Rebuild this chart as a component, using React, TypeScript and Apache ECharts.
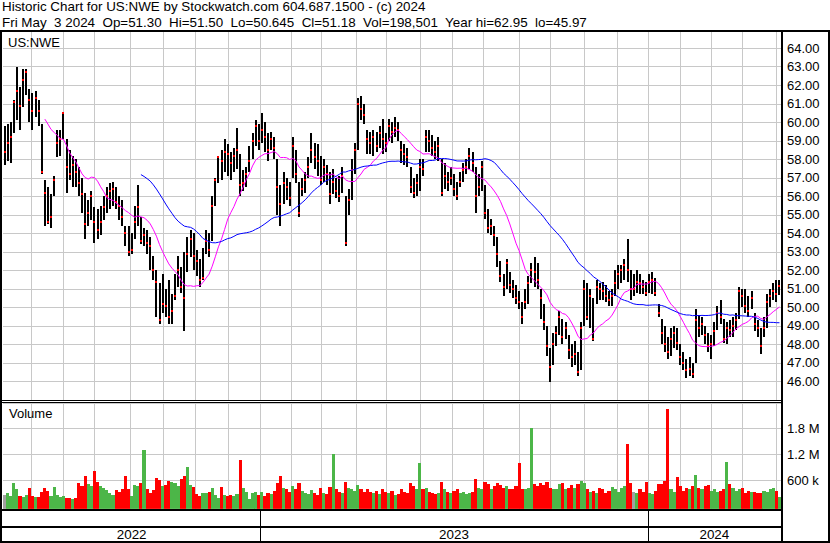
import { useEffect, useRef } from 'react';
import * as echarts from 'echarts';

// ---------- data ----------
const TITLE = 'Historic Chart for US:NWE by Stockwatch.com 604.687.1500 - (c) 2024';
const SUBTITLE = 'Fri May  3 2024  Op=51.30  Hi=51.50  Lo=50.645  Cl=51.18  Vol=198,501  Year hi=62.95  lo=45.97';
const SYMBOL = 'US:NWE';

// trading days per month, May 2022 (partial) .. May 2024 (partial)
const monthTradingDays = [18, 21, 20, 23, 21, 21, 21, 21, 20, 19, 23, 19, 22, 21, 20, 23, 20, 22, 21, 20, 21, 20, 20, 22, 3];
const years = ['2022', '2023', '2024'];
const monthsPerYear = [8, 12, 5];
const DAYS_PER_BAR = 2;
const MA_SHORT_DAYS = 28;
const MA_LONG_DAYS = 90;

const priceClose = [
  58.4, 58.9, 59.2, 61.1, 61.7, 60.9, 62.3, 62.7, 61.2, 60.6,
  61.3, 60.6, 57.3, 56.2, 54.6, 54.9, 56.9, 58.9, 59.1, 60.5,
  57.6, 57.2, 57.7, 57.3, 56.7, 56.1, 54.5, 55.1, 56.0, 54.6,
  54.2, 54.6, 55.4, 56.0, 56.3, 56.4, 55.7, 55.5, 54.9, 54.0,
  53.0, 53.1, 54.6, 55.4, 53.6, 53.9, 53.5, 53.3, 52.0, 51.4,
  49.3, 50.2, 50.1, 49.5, 49.8, 50.6, 52.0, 51.1, 50.5, 52.9,
  53.7, 52.8, 52.5, 51.5, 51.6, 53.6, 53.1, 55.5, 56.9, 58.1,
  57.9, 58.4, 58.3, 57.8, 58.2, 58.5, 56.6, 56.7, 57.2, 57.9,
  59.0, 59.8, 59.0, 59.6, 59.2, 58.5, 59.1, 58.6, 56.5, 55.6,
  56.7, 56.5, 55.9, 58.7, 57.2, 55.1, 56.4, 56.9, 57.6, 58.5,
  58.1, 57.9, 56.9, 57.6, 57.2, 56.1, 56.8, 56.3, 56.0, 57.1,
  53.5, 55.8, 57.4, 58.5, 61.0, 60.7, 60.4, 59.1, 58.9, 59.2,
  58.7, 59.4, 59.1, 58.9, 59.8, 59.5, 59.7, 59.6, 58.5, 58.3,
  58.1, 56.5, 56.2, 56.7, 57.6, 57.5, 59.2, 59.0, 58.6, 58.4,
  58.7, 56.2, 57.1, 56.8, 57.0, 56.4, 56.0, 56.8, 57.4, 57.6,
  58.2, 57.8, 56.0, 56.5, 57.6, 55.1, 54.3, 54.4, 53.9, 52.9,
  51.7, 51.1, 52.4, 51.2, 51.0, 50.5, 50.3, 49.5, 50.3, 51.3,
  52.0, 51.9, 51.5, 50.5, 49.2, 47.9, 46.8, 48.0, 48.6, 49.5,
  48.4, 48.9, 47.7, 47.3, 47.5, 46.5, 48.9, 51.0, 49.5, 50.6,
  48.3, 51.1, 51.0, 50.9, 50.6, 50.4, 50.6, 51.3, 51.8, 52.0,
  52.3, 52.0, 51.0, 51.0, 51.4, 51.3, 51.1, 50.8, 51.4, 51.5,
  50.8, 49.7, 48.6, 48.0, 47.6, 48.3, 48.6, 48.1, 47.3, 47.0,
  46.6, 46.7, 46.4, 49.3, 48.9, 49.1, 48.5, 47.9, 48.0, 48.7,
  49.7, 49.5, 48.3, 48.9, 48.8, 49.0, 49.3, 50.9, 50.6, 50.1,
  49.8, 50.5, 49.1, 48.9, 47.9, 48.9, 50.3, 50.6, 50.9, 50.7,
  51.18,
];

const priceHigh = [
  59.8, 59.9, 60.0, 61.2, 63.0, 61.9, 62.9, 62.9, 61.8, 61.6,
  61.7, 61.2, 59.9, 56.9, 56.5, 56.1, 57.1, 59.6, 59.6, 60.5,
  59.1, 58.5, 58.2, 58.0, 57.6, 57.0, 56.2, 55.8, 56.3, 55.4,
  55.3, 55.5, 56.0, 56.5, 56.7, 56.8, 56.5, 56.0, 55.8, 54.4,
  54.4, 54.0, 55.5, 56.6, 54.9, 54.3, 54.2, 53.8, 52.8, 52.0,
  51.3, 51.8, 51.0, 51.5, 50.7, 51.8, 52.8, 52.2, 53.0, 53.8,
  54.2, 54.0, 53.1, 52.6, 53.2, 54.2, 54.0, 56.0, 57.0, 58.2,
  58.5, 59.1, 58.8, 58.4, 58.6, 59.7, 58.3, 57.4, 57.6, 58.7,
  59.4, 60.1, 59.9, 60.5, 60.0, 59.4, 59.5, 59.2, 58.0, 56.6,
  57.3, 57.0, 56.8, 59.2, 58.5, 56.8, 57.0, 57.3, 58.1, 59.4,
  58.9, 58.8, 58.2, 58.0, 57.7, 57.3, 57.5, 57.0, 57.1, 57.6,
  56.0, 56.4, 58.0, 58.9, 61.3, 61.4, 61.0, 59.6, 59.5, 59.6,
  59.5, 59.8, 60.2, 59.4, 60.2, 60.0, 60.3, 60.0, 59.0, 58.8,
  58.6, 57.6, 57.0, 57.2, 58.0, 58.0, 59.6, 59.6, 59.3, 59.0,
  59.2, 58.0, 57.8, 57.3, 57.6, 57.2, 56.8, 57.3, 57.8, 58.0,
  58.6, 58.4, 57.6, 57.2, 57.9, 56.6, 55.3, 54.8, 54.4, 53.8,
  52.5, 51.8, 52.6, 51.9, 51.5, 51.2, 50.9, 50.3, 51.0, 51.7,
  52.4, 52.7, 52.4, 51.0, 50.2, 49.0, 47.8, 48.6, 49.0, 49.8,
  49.4, 49.2, 48.5, 48.0, 48.2, 47.6, 49.2, 51.5, 51.3, 51.0,
  50.5, 51.5, 51.3, 51.4, 51.2, 50.9, 51.0, 52.0, 52.3, 52.3,
  52.6, 53.7, 52.0, 51.8, 52.0, 51.8, 51.5, 51.4, 51.8, 51.9,
  51.6, 50.2, 49.4, 49.0, 48.4, 48.9, 49.0, 48.9, 48.0, 47.6,
  47.2, 47.3, 47.0, 49.9, 49.6, 49.5, 49.0, 48.6, 48.5, 49.2,
  50.1, 50.4, 49.4, 49.2, 49.3, 49.5, 49.7, 51.1, 51.0, 51.0,
  50.6, 50.9, 49.7, 49.3, 48.9, 49.5, 50.7, 51.0, 51.3, 51.5,
  51.5,
];

const priceLow = [
  57.7, 57.9, 57.8, 59.4, 60.1, 59.6, 60.8, 61.5, 60.0, 59.6,
  60.3, 59.8, 57.2, 54.4, 54.5, 54.3, 56.0, 58.1, 58.2, 59.1,
  56.2, 56.9, 56.5, 56.5, 56.0, 55.1, 53.7, 54.4, 54.7, 53.5,
  53.7, 53.9, 54.7, 55.1, 55.3, 55.5, 55.3, 54.7, 54.4, 53.3,
  52.8, 52.9, 53.7, 54.4, 53.4, 53.3, 52.9, 52.0, 51.5, 49.5,
  49.1, 49.7, 49.5, 49.1, 49.1, 50.4, 51.1, 50.8, 48.7, 51.9,
  52.7, 52.0, 51.7, 51.1, 51.5, 52.9, 52.7, 53.6, 55.5, 56.7,
  56.9, 57.3, 57.1, 56.9, 57.3, 57.5, 56.0, 56.3, 56.5, 57.3,
  58.0, 58.7, 58.5, 58.9, 58.4, 57.9, 58.5, 58.0, 55.0, 54.4,
  55.6, 55.8, 55.5, 57.0, 56.7, 54.9, 56.0, 56.2, 57.0, 57.8,
  57.5, 57.1, 56.6, 56.8, 56.6, 55.6, 56.1, 55.9, 55.7, 56.2,
  53.3, 55.0, 55.8, 57.2, 58.5, 60.1, 59.9, 58.3, 58.3, 58.2,
  58.4, 58.6, 58.3, 58.4, 59.0, 58.9, 59.2, 59.0, 57.8, 57.7,
  57.6, 56.2, 55.9, 56.0, 56.3, 57.1, 58.4, 58.4, 58.2, 58.0,
  57.9, 56.0, 56.4, 56.3, 56.6, 56.0, 55.8, 56.5, 56.8, 57.2,
  57.5, 57.3, 55.1, 56.0, 56.3, 54.8, 54.0, 53.9, 53.3, 52.2,
  51.4, 50.6, 51.0, 50.8, 50.5, 50.2, 49.9, 49.1, 49.9, 50.2,
  51.3, 51.1, 51.0, 49.4, 48.8, 47.4, 45.97, 46.9, 47.9, 48.5,
  48.0, 48.3, 47.2, 46.8, 46.9, 46.3, 46.6, 49.0, 49.3, 48.9,
  48.2, 50.2, 50.4, 50.4, 50.3, 50.1, 50.1, 50.6, 51.0, 51.3,
  51.5, 51.4, 50.4, 50.6, 50.8, 50.7, 50.7, 50.6, 50.8, 50.7,
  50.6, 49.5, 48.0, 47.6, 47.2, 47.4, 47.8, 47.7, 46.9, 46.6,
  46.2, 46.3, 46.2, 47.0, 48.4, 48.5, 48.0, 47.6, 47.2, 47.9,
  48.8, 49.1, 48.1, 48.0, 48.4, 48.4, 48.8, 49.4, 50.0, 49.7,
  49.5, 49.9, 48.7, 48.4, 47.5, 48.4, 48.9, 50.0, 50.4, 50.3,
  50.645,
];

// average daily volume per bar, in thousands of shares
const volumeThousands = [
  250, 290, 240, 520, 380, 230, 210, 250, 410, 230,
  200, 210, 330, 420, 350, 230, 440, 260, 200, 240,
  190, 180, 170, 180, 540, 450, 690, 500, 450, 800,
  560, 470, 420, 360, 290, 250, 360, 330, 380, 690,
  390, 230, 480, 470, 540, 1300, 400, 300, 360, 640,
  600, 460, 480, 580, 560, 520, 450, 620, 700, 900,
  480, 440, 280, 240, 300, 290, 330, 420, 260, 180,
  440, 260, 220, 250, 240, 280, 1065, 420, 330, 160,
  290, 330, 250, 320, 240, 300, 280, 350, 530, 690,
  420, 380, 330, 450, 400, 520, 350, 300, 280, 360,
  300, 260, 420, 300, 280, 430, 1200, 380, 330, 300,
  560, 420, 380, 350, 480, 400, 320, 380, 330, 300,
  350, 280, 380, 330, 300, 350, 260, 280, 400, 330,
  300, 520, 450, 380, 1000, 380, 420, 330, 300, 280,
  300, 560, 380, 330, 290, 350, 380, 300, 330, 280,
  300, 320, 620, 420, 380, 560, 500, 380, 450, 520,
  480, 420, 450, 380, 400, 450, 1000, 400, 380, 420,
  1800, 500, 450, 520, 480, 560, 420, 380, 400, 500,
  520, 380, 420, 480, 420, 500, 575, 520, 400, 330,
  350, 300, 420, 380, 300, 350, 445, 380, 330, 420,
  460, 1440, 540, 330, 300, 380, 320, 545, 300, 280,
  350, 500, 500, 575, 2250, 380, 330, 670, 450, 350,
  420, 380, 450, 715, 420, 380, 450, 480, 350, 380,
  330, 350, 380, 1010, 500, 420, 350, 380, 420, 300,
  350, 330, 330, 300, 310, 350, 330, 390, 420, 350,
  198.501,
];

// ---------- derived ----------
const TOTAL_DAYS = monthTradingDays.reduce((a, b) => a + b, 0);
const monthBoundaries: number[] = [];
{
  let acc = 0;
  for (let i = 0; i < monthTradingDays.length - 1; i++) {
    acc += monthTradingDays[i];
    monthBoundaries.push(acc);
  }
}
const yearStarts: number[] = [];
{
  let m = 0;
  let acc = 0;
  for (let y = 0; y < years.length; y++) {
    yearStarts.push(acc);
    for (let j = 0; j < monthsPerYear[y]; j++) acc += monthTradingDays[m++];
  }
}
const yearEnds = yearStarts.slice(1).concat([TOTAL_DAYS]);
const barX = (i: number) => i * DAYS_PER_BAR + DAYS_PER_BAR / 2;

const ohlcData = priceClose.map((c, i) => [barX(i), priceHigh[i], priceLow[i], c]);
const volumeData = volumeThousands.map((v, i) => {
  const dir = i === 0 ? 0 : Math.sign(priceClose[i] - priceClose[i - 1]);
  return [barX(i), v * 1000, dir];
});

function sma(values: number[], periodBars: number) {
  const out: number[][] = [];
  let sum = 0;
  for (let i = 0; i < values.length; i++) {
    sum += values[i];
    if (i >= periodBars) sum -= values[i - periodBars];
    if (i >= periodBars - 1) out.push([barX(i), sum / periodBars]);
  }
  return out;
}
const maShort = sma(priceClose, MA_SHORT_DAYS / DAYS_PER_BAR);
const maLong = sma(priceClose, MA_LONG_DAYS / DAYS_PER_BAR);

// ---------- styling ----------
const FONT = '"Liberation Sans", Arial, sans-serif';
const GRID_COLOR = '#c8c8c8';
const UP = '#4cb648';
const DOWN = '#ff0000';
const FLAT = '#a0a0a0';

function priceLabel(v: number) {
  if (Math.abs(v - Math.round(v)) > 1e-6 || v < 46) return '';
  return v.toFixed(2);
}
function volLabel(v: number) {
  if (v <= 0 || Math.abs(v / 600000 - Math.round(v / 600000)) > 1e-6) return '';
  return v >= 1e6 ? (v / 1e6).toFixed(1) + ' M' : Math.round(v / 1000) + ' k';
}

function gridLineRender(extraBottom: number) {
  return (params: any, api: any) => {
    const cs = params.coordSys;
    const p = api.coord([api.value(0), api.value(1)]);
    const x = Math.round(p[0]) + 0.5;
    return {
      type: 'line',
      shape: { x1: x, y1: cs.y, x2: x, y2: cs.y + cs.height + extraBottom },
      style: { stroke: GRID_COLOR, lineWidth: 1 },
      silent: true,
    };
  };
}

function buildOption(): any {
  const axisLabelBase = { color: '#000', fontSize: 13, fontFamily: FONT, margin: 6 };
  return {
    animation: false,
    backgroundColor: '#ffffff',
    grid: [
      { left: 3, top: 31, width: 778, height: 369 },
      { left: 3, top: 403, width: 778, height: 102.9 },
      { left: 3, top: 510, width: 778, height: 32 },
    ],
    xAxis: [0, 1, 2].map((g) => ({ gridIndex: g, type: 'value', min: 0, max: TOTAL_DAYS, show: false })),
    yAxis: [
      {
        gridIndex: 0, type: 'value', position: 'right', min: 45, max: 64.93, interval: 1,
        axisLine: { show: false }, axisTick: { show: false },
        splitLine: { show: true, lineStyle: { color: GRID_COLOR, width: 1 } },
        axisLabel: { ...axisLabelBase, formatter: priceLabel },
      },
      {
        gridIndex: 1, type: 'value', position: 'right', min: 0, max: 2384000, interval: 600000,
        axisLine: { show: false }, axisTick: { show: false },
        splitLine: { show: true, lineStyle: { color: GRID_COLOR, width: 1 } },
        axisLabel: { ...axisLabelBase, formatter: volLabel },
      },
      { gridIndex: 2, type: 'value', min: 0, max: 1, show: false },
    ],
    series: [
      {
        type: 'custom', name: 'monthGridPrice', xAxisIndex: 0, yAxisIndex: 0, z: 1, silent: true,
        data: monthBoundaries.map((d) => [d, 50]), encode: { x: 0, y: 1 },
        renderItem: gridLineRender(0),
      },
      {
        type: 'custom', name: 'monthGridVolume', xAxisIndex: 1, yAxisIndex: 1, z: 1, silent: true,
        data: monthBoundaries.map((d) => [d, 0]), encode: { x: 0, y: 1 },
        renderItem: gridLineRender(3),
      },
      {
        type: 'custom', name: 'price', xAxisIndex: 0, yAxisIndex: 0, z: 2, silent: true,
        data: ohlcData, encode: { x: 0, y: [1, 2, 3] },
        renderItem: (params: any, api: any) => {
          const x = api.value(0);
          const top = api.coord([x, api.value(1)]);
          const bot = api.coord([x, api.value(2)]);
          const c = api.coord([x, api.value(3)]);
          const px = Math.round(top[0]) - 1;
          return {
            type: 'group',
            children: [
              { type: 'rect', shape: { x: px, y: Math.round(top[1]), width: 2, height: Math.max(1, Math.round(bot[1]) - Math.round(top[1])) }, style: { fill: '#000000' } },
              { type: 'rect', shape: { x: px, y: Math.round(c[1]) - 1, width: 2, height: 2 }, style: { fill: '#ff0000' } },
            ],
          };
        },
      },
      {
        type: 'line', name: 'MA short', xAxisIndex: 0, yAxisIndex: 0, z: 3, silent: true,
        data: maShort, showSymbol: false, symbol: 'none',
        lineStyle: { color: '#ff00ff', width: 1 },
      },
      {
        type: 'line', name: 'MA long', xAxisIndex: 0, yAxisIndex: 0, z: 3, silent: true,
        data: maLong, showSymbol: false, symbol: 'none',
        lineStyle: { color: '#0000ff', width: 1 },
      },
      {
        type: 'custom', name: 'volume', xAxisIndex: 1, yAxisIndex: 1, z: 2, silent: true,
        data: volumeData, encode: { x: 0, y: 1 },
        renderItem: (params: any, api: any) => {
          const cs = params.coordSys;
          const x = api.value(0);
          const p = api.coord([x, api.value(1)]);
          const w = api.size([DAYS_PER_BAR, 0])[0];
          const dir = api.value(2);
          const bottom = cs.y + cs.height + 3;
          const x0 = Math.round(p[0] - w / 2);
          const x1 = Math.round(p[0] + w / 2);
          return {
            type: 'rect',
            shape: { x: x0, y: Math.round(p[1]), width: Math.max(1, x1 - x0), height: bottom - Math.round(p[1]) },
            style: { fill: dir > 0 ? UP : dir < 0 ? DOWN : FLAT },
          };
        },
      },
      {
        type: 'custom', name: 'yearSeparators', xAxisIndex: 2, yAxisIndex: 2, z: 2, silent: true,
        data: yearStarts.slice(1).map((d) => [d, 0]), encode: { x: 0, y: 1 },
        renderItem: (params: any, api: any) => {
          const cs = params.coordSys;
          const p = api.coord([api.value(0), 0]);
          const x = Math.round(p[0]) + 0.5;
          return { type: 'line', shape: { x1: x, y1: cs.y, x2: x, y2: cs.y + cs.height }, style: { stroke: '#000', lineWidth: 1 } };
        },
      },
      {
        type: 'custom', name: 'yearLabels', xAxisIndex: 2, yAxisIndex: 2, z: 2, silent: true,
        data: years.map((_, i) => [(yearStarts[i] + yearEnds[i]) / 2, 0.22, i]), encode: { x: 0, y: 1 },
        renderItem: (params: any, api: any) => {
          const p = api.coord([api.value(0), api.value(1)]);
          return {
            type: 'text', x: p[0], y: p[1],
            style: { text: years[api.value(2)], fill: '#000', font: '13.4px ' + FONT, align: 'center', verticalAlign: 'middle', textAlign: 'center', textVerticalAlign: 'middle' },
          };
        },
      },
    ],
    graphic: [
      { type: 'text', x: 2, y: 6, silent: true, style: { text: TITLE, fill: '#000', font: '13.4px ' + FONT, verticalAlign: 'middle', textVerticalAlign: 'middle' } },
      { type: 'text', x: 2, y: 22.5, silent: true, style: { text: SUBTITLE, fill: '#000', font: '13.4px ' + FONT, verticalAlign: 'middle', textVerticalAlign: 'middle' } },
      { type: 'text', x: 8, y: 42, z: 10, silent: true, style: { text: SYMBOL, fill: '#000', font: '13px ' + FONT, verticalAlign: 'middle', textVerticalAlign: 'middle' } },
      { type: 'text', x: 9, y: 413, z: 10, silent: true, style: { text: 'Volume', fill: '#000', font: '13px ' + FONT, verticalAlign: 'middle', textVerticalAlign: 'middle' } },
      // frame
      { type: 'rect', z: 20, silent: true, shape: { x: 0, y: 30, width: 830, height: 2 }, style: { fill: '#000' } },
      { type: 'rect', z: 20, silent: true, shape: { x: 0, y: 30, width: 2, height: 513 }, style: { fill: '#000' } },
      { type: 'rect', z: 20, silent: true, shape: { x: 781, y: 30, width: 2, height: 513 }, style: { fill: '#000' } },
      { type: 'rect', z: 20, silent: true, shape: { x: 828, y: 30, width: 2, height: 513 }, style: { fill: '#000' } },
      { type: 'rect', z: 20, silent: true, shape: { x: 0, y: 400, width: 781, height: 1 }, style: { fill: '#000' } },
      { type: 'rect', z: 20, silent: true, shape: { x: 0, y: 402, width: 781, height: 1 }, style: { fill: '#000' } },
      { type: 'rect', z: 20, silent: true, shape: { x: 0, y: 509, width: 781, height: 2 }, style: { fill: '#000' } },
      { type: 'rect', z: 20, silent: true, shape: { x: 0, y: 526, width: 781, height: 2 }, style: { fill: '#000' } },
      { type: 'rect', z: 20, silent: true, shape: { x: 0, y: 541, width: 830, height: 2 }, style: { fill: '#000' } },
    ],
  };
}

export default function App() {
  const ref = useRef<HTMLDivElement>(null);
  useEffect(() => {
    document.body.style.margin = '0';
    const chart = echarts.init(ref.current as HTMLDivElement, undefined, { renderer: 'svg', width: 830, height: 543 });
    chart.setOption(buildOption());
    return () => chart.dispose();
  }, []);
  return <div ref={ref} style={{ width: 830, height: 543, background: '#ffffff' }} />;
}
